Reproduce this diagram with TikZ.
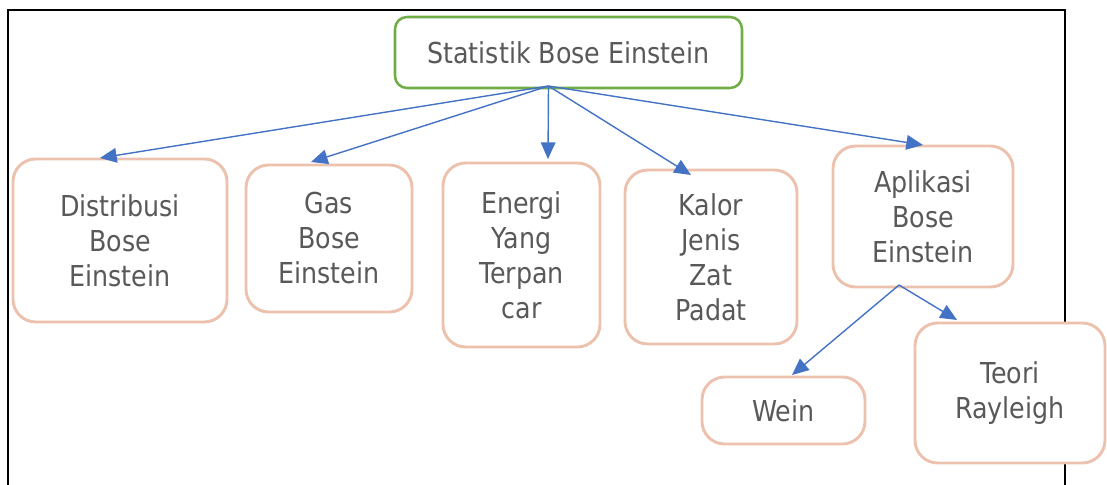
\documentclass[tikz,border=0pt]{standalone}
\usepackage{fontspec}
\setmainfont[FakeStretch=0.88]{DejaVu Sans}
\usetikzlibrary{arrows.meta,calc}
\definecolor{txtgray}{HTML}{595959}
\definecolor{topgreen}{HTML}{70AD47}
\definecolor{peach}{RGB}{236,194,174}
\definecolor{arrblue}{HTML}{4472C4}
\tikzset{
  boxbase/.style={rectangle, align=center, inner sep=0pt, outer sep=0pt, fill=white,
    text=txtgray, font=\fontsize{21.6pt}{26.25pt}\selectfont},
  topbox/.style={boxbase, draw=topgreen, line width=1.9pt, rounded corners=9pt},
  subbox/.style={boxbase, draw=peach, line width=2.2pt, rounded corners=17pt},
  conn/.style={draw=arrblue, line width=1.05pt, -{Triangle[length=12.5pt,width=11pt]}},
  framebox/.style={draw=black, line width=1.9pt}
}
\begin{document}
\begin{tikzpicture}[x=0.75pt,y=-0.75pt]
\useasboundingbox (0,0) rectangle (1107,485);
\draw[framebox] (8,485) -- (8,10) -- (1065,10) -- (1065,485);

\node[topbox, minimum width=347*0.75pt, minimum height=71*0.75pt] (top) at (568.5,52.5) {Statistik Bose Einstein};
\node[subbox, minimum width=214*0.75pt, minimum height=163*0.75pt] (dist) at (120,240.5) {Distribusi\\Bose\\Einstein};
\node[subbox, minimum width=166*0.75pt, minimum height=147*0.75pt] (gas) at (329,238.5) {Gas\\Bose\\Einstein};
\node[subbox, minimum width=157*0.75pt, minimum height=184*0.75pt] (energi) at (521.5,255) {Energi\\Yang\\Terpan\\car};
\node[subbox, minimum width=172*0.75pt, minimum height=174*0.75pt] (kalor) at (711,257) {Kalor\\Jenis\\Zat\\Padat};
\node[subbox, minimum width=180*0.75pt, minimum height=141*0.75pt] (apl) at (923,216.5) {Aplikasi\\Bose\\Einstein};
\node[subbox, minimum width=163*0.75pt, minimum height=67*0.75pt] (wein) at (783.5,410.5) {Wein};
\node[subbox, minimum width=190*0.75pt, minimum height=140*0.75pt] (ray) at (1010,393) {Teori\\Rayleigh};

\coordinate (o1) at ($(top.south)+(-20,-2)$);
\coordinate (o2) at ($(apl.south)+(-24,-2)$);

\draw[conn] (o1) -- ($(dist.north)+(-20,-1)$);
\draw[conn] (o1) -- ($(gas.north)+(-18,-3)$);
\draw[conn] (o1) -- ($(energi.north)+(26.5,-4)$);
\draw[conn] (o1) -- ($(kalor.north)+(-20,5)$);
\draw[conn] (o1) -- ($(apl.north)+(0,-1)$);
\draw[conn] (o2) -- ($(wein.north)+(8.5,-2)$);
\draw[conn] (o2) -- ($(ray.north)+(-53,-3)$);
\end{tikzpicture}
\end{document}
